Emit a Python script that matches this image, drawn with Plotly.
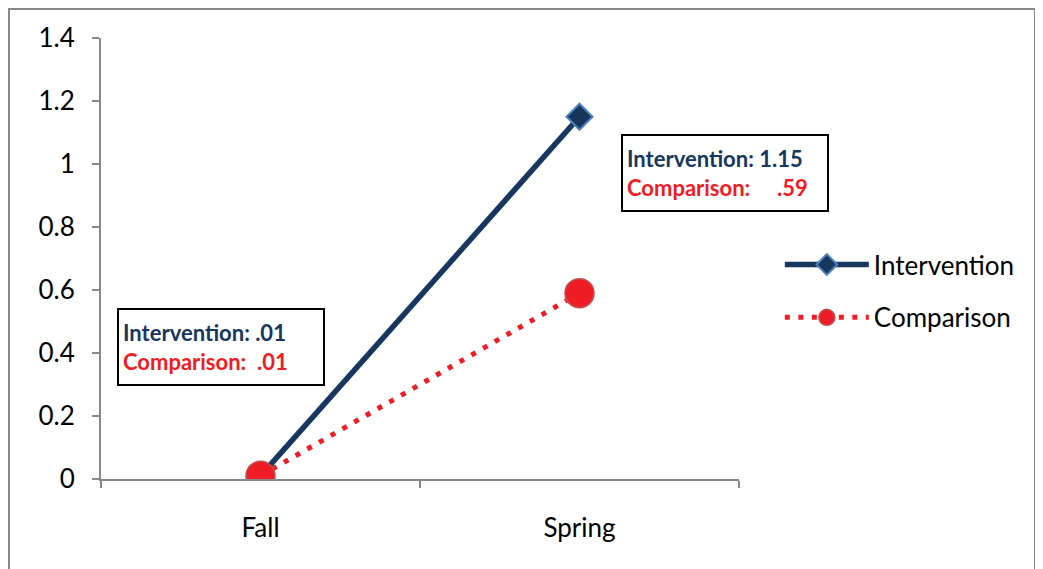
import plotly.graph_objects as go

categories = ["Fall", "Spring"]
intervention = [0.01, 1.15]
comparison = [0.01, 0.59]
y_ticks = [0, 0.2, 0.4, 0.6, 0.8, 1, 1.2, 1.4]
y_tick_labels = ["0", "0.2", "0.4", "0.6", "0.8", "1", "1.2", "1.4"]

NAVY = "#17375E"
RED = "#EE1C25"
FONT = "Lato, Open Sans, sans-serif"

# plot area geometry (figure px; the page body adds an 8px offset)
L, T, PW, PH = 93, 30, 638, 441

fig = go.Figure()
fig.add_trace(go.Scatter(
    x=categories, y=intervention, name="Intervention", mode="lines+markers",
    line=dict(color=NAVY, width=5.5),
    marker=dict(symbol="diamond", size=20, color=NAVY, line=dict(color="#4F81BD", width=2)),
    legendgroup="a",
))
fig.add_trace(go.Scatter(
    x=categories, y=comparison, name="Comparison", mode="lines+markers",
    line=dict(color=RED, width=5, dash="5px,8.5px"),
    marker=dict(symbol="circle", size=29, color=RED, line=dict(color="#C0504D", width=1.5)),
    legendgroup="b",
))

fig.update_layout(
    width=1043, height=569,
    margin=dict(l=L, r=1043 - L - PW, t=T, b=569 - T - PH),
    paper_bgcolor="white", plot_bgcolor="white",
    font=dict(family=FONT, size=26, color="black"),
    showlegend=True,
    legend=dict(x=1.064, y=0.426, xanchor="left", yanchor="middle",
                font=dict(size=26), itemwidth=84, tracegroupgap=16,
                traceorder="grouped", bgcolor="rgba(0,0,0,0)"),
    xaxis=dict(type="category", range=[-0.5, 1.5], tickson="boundaries",
               showline=True, linecolor="#888888", linewidth=2,
               ticks="outside", ticklen=7, tickcolor="#888888", tickwidth=2,
               showgrid=False, zeroline=False, ticklabelstandoff=25),
    yaxis=dict(range=[0, 1.4], tickvals=y_ticks, ticktext=y_tick_labels,
               showline=True, linecolor="#888888", linewidth=2,
               ticks="outside", ticklen=7, tickcolor="#888888", tickwidth=2,
               showgrid=False, zeroline=False, ticklabelstandoff=12),
)

fig.add_shape(type="rect", xref="paper", yref="paper",
              x0=(1 - L) / PW, x1=(1027 - L) / PW,
              y0=-0.3, y1=(T + PH - 1) / PH,
              line=dict(color="#888888", width=2), layer="below")

fig.add_annotation(
    xref="paper", yref="y", x=(213 - L) / PW, y=0.419,
    xanchor="center", yanchor="middle",
    text=f"<b><span style='color:{NAVY}'>Intervention: .01</span><br>"
         f"<span style='color:{RED}'>Comparison:  .01</span></b>",
    showarrow=False, align="left", width=196, height=66, borderpad=4,
    bordercolor="black", borderwidth=2, bgcolor="white",
    font=dict(family=FONT, size=22),
)
fig.add_annotation(
    xref="paper", yref="y", x=(717 - L) / PW, y=0.97,
    xanchor="center", yanchor="middle",
    text=f"<b><span style='color:{NAVY}'>Intervention: 1.15</span><br>"
         f"<span style='color:{RED}'>Comparison:&nbsp;&nbsp;&nbsp;&nbsp; .59</span></b>",
    showarrow=False, align="left", width=196, height=66, borderpad=4,
    bordercolor="black", borderwidth=2, bgcolor="white",
    font=dict(family=FONT, size=22),
)

fig.write_html("out.html")
